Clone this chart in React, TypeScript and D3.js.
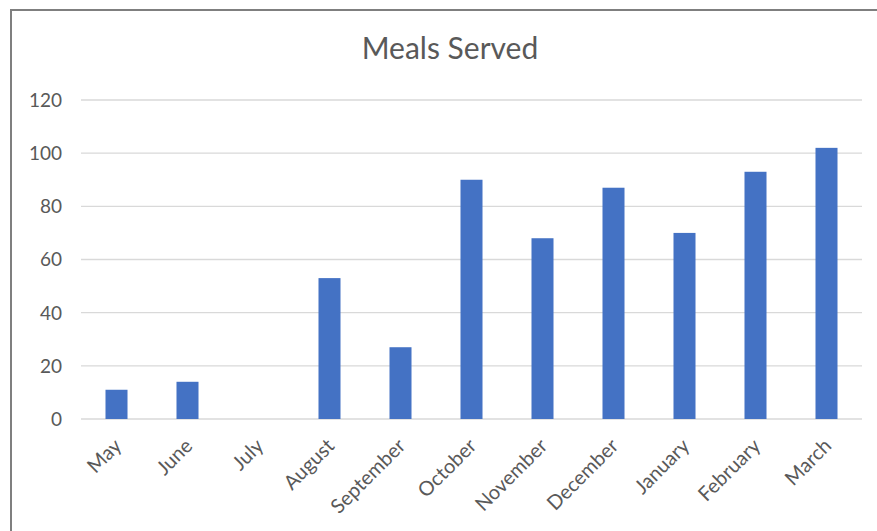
import React from "react";
import * as d3 from "d3";

const categories = ["May", "June", "July", "August", "September", "October", "November", "December", "January", "February", "March"];
const mealsServed = [11, 14, 0, 53, 27, 90, 68, 87, 70, 93, 102];
const yTicks = [0, 20, 40, 60, 80, 100, 120];
const title = "Meals Served";

const W = 877;
const H = 531;
const plot = { left: 81, right: 862, top: 100, bottom: 419 };
const FONT = "Lato, 'Open Sans', sans-serif";
const TEXT = "#595959";

export default function App() {
  const x = d3.scaleBand<string>().domain(categories).range([plot.left, plot.right]).paddingInner(0.69).paddingOuter(0.345);
  const y = d3.scaleLinear().domain([0, 120]).range([plot.bottom, plot.top]);

  return (
    <svg width={W} height={H} style={{ position: "fixed", left: 0, top: 0, background: "#fff" }} fontFamily={FONT}>
      <rect x={0} y={0} width={W} height={H} fill="#fff" />
      <rect x={11} y={10} width={W + 20} height={H + 20} fill="none" stroke="#7f7f7f" strokeWidth={2} />
      <text x={450} y={59} textAnchor="middle" fontSize={30} fill={TEXT}>{title}</text>
      {yTicks.map((t) => (
        <g key={t}>
          <line x1={plot.left} x2={plot.right} y1={y(t)} y2={y(t)} stroke="#d9d9d9" strokeWidth={t === 0 ? 1.5 : 1.3} />
          <text x={62} y={y(t)} dy="0.36em" textAnchor="end" fontSize={19} fill={TEXT}>{t}</text>
        </g>
      ))}
      {categories.map((c, i) => (
        <rect key={c} x={x(c)!} width={x.bandwidth()} y={y(mealsServed[i])} height={y(0) - y(mealsServed[i])} fill="#4472C4" />
      ))}
      {categories.map((c) => {
        const cx = x(c)! + x.bandwidth() / 2 - 4;
        const cy = plot.bottom + 18;
        return (
          <text key={c} transform={`translate(${cx},${cy}) rotate(-45)`} textAnchor="end" dy="0.72em" fontSize={20} fill={TEXT}>{c}</text>
        );
      })}
    </svg>
  );
}
